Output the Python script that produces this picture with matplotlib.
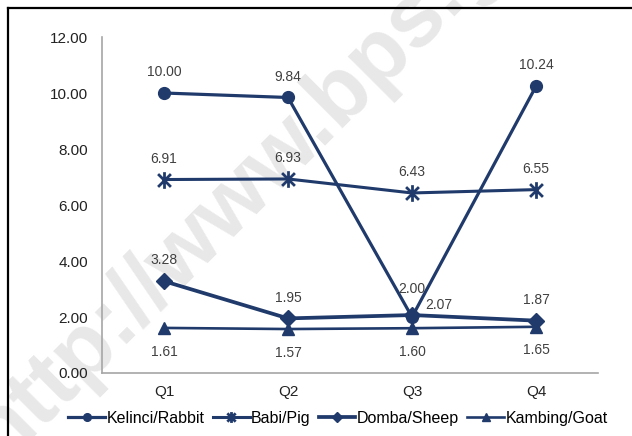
import matplotlib.pyplot as plt
from matplotlib.lines import Line2D
from matplotlib.path import Path

plt.rcParams['font.family'] = ['Liberation Sans', 'DejaVu Sans']

# Data per kuartal
kuartal = ["Q1", "Q2", "Q3", "Q4"]
kelinci = [10.00, 9.84, 2.00, 10.24]
babi = [6.91, 6.93, 6.43, 6.55]
domba = [3.28, 1.95, 2.07, 1.87]
kambing = [1.61, 1.57, 1.60, 1.65]

warna = "#1f3a6b"
warna_label = "#404040"

# penanda bintang ala Excel: X + garis tegak
bintang = Path([(-1, -1), (1, 1), (-1, 1), (1, -1), (0, -1.3), (0, 1.3)],
               [Path.MOVETO, Path.LINETO, Path.MOVETO, Path.LINETO,
                Path.MOVETO, Path.LINETO])

fig = plt.figure(figsize=(6.32, 4.36), dpi=100)
ax = fig.add_axes([0.1614, 0.1445, 0.7848, 0.7706])
ax.set_facecolor("none")

x = range(len(kuartal))
ax.plot(x, kelinci, color=warna, lw=2.3, marker="o", ms=8.5, label="Kelinci/Rabbit", zorder=3)
ax.plot(x, babi, color=warna, lw=2.2, marker=bintang, ms=12, mew=2, label="Babi/Pig", zorder=3)
ax.plot(x, domba, color=warna, lw=2.7, marker="D", ms=8, label="Domba/Sheep", zorder=3)
ax.plot(x, kambing, color=warna, lw=1.9, marker="^", ms=8.5, label="Kambing/Goat", zorder=3)

# label nilai
def label(seri, offsets):
    for i, (v, off) in enumerate(zip(seri, offsets)):
        ax.annotate(f"{v:.2f}", (i, v), xytext=off, textcoords="offset points",
                    ha="center", va="center", fontsize=10, color=warna_label)

label(kelinci, [(0, 15), (0, 15), (0, 20), (0, 15)])
label(babi, [(0, 15), (0, 15), (0, 15), (0, 15)])
label(domba, [(0, 15), (0, 15), (19, 7), (0, 15)])
label(kambing, [(0, -17), (0, -17), (0, -17), (0, -17)])

ax.set_xlim(-0.5, 3.5)
ax.set_ylim(0, 12)
ax.set_xticks(list(x))
ax.set_xticklabels(kuartal)
ax.set_yticks([0, 2, 4, 6, 8, 10, 12])
ax.set_yticklabels([f"{v:.2f}" for v in [0, 2, 4, 6, 8, 10, 12]])
ax.tick_params(axis="both", length=0, labelsize=11, colors="#222222")
ax.tick_params(axis="y", pad=10)
ax.tick_params(axis="x", pad=9)
for s in ["top", "right"]:
    ax.spines[s].set_visible(False)
for s in ["left", "bottom"]:
    ax.spines[s].set_color("#a6a6a6")
    ax.spines[s].set_linewidth(1.2)

fig.legend(loc="center", bbox_to_anchor=(0.535, 0.04), ncol=4, frameon=False,
           fontsize=11.5, handlelength=2.3, handletextpad=0.1, columnspacing=0.5,
           markerscale=0.65)

# watermark
fig.text(0.002, -0.064, "http://www.bps.go.id", rotation=45, rotation_mode="anchor",
         ha="left", va="baseline", fontsize=64, fontweight="bold",
         color="#e8e8e8", zorder=-1)

# bingkai kiri dan atas
fig.add_artist(Line2D([8 / 632, 1], [1 - 8 / 436, 1 - 8 / 436], color="black", lw=1.6))
fig.add_artist(Line2D([8 / 632, 8 / 632], [0, 1 - 8 / 436], color="black", lw=1.6))

fig.savefig("out.png", dpi=100, facecolor="white")
